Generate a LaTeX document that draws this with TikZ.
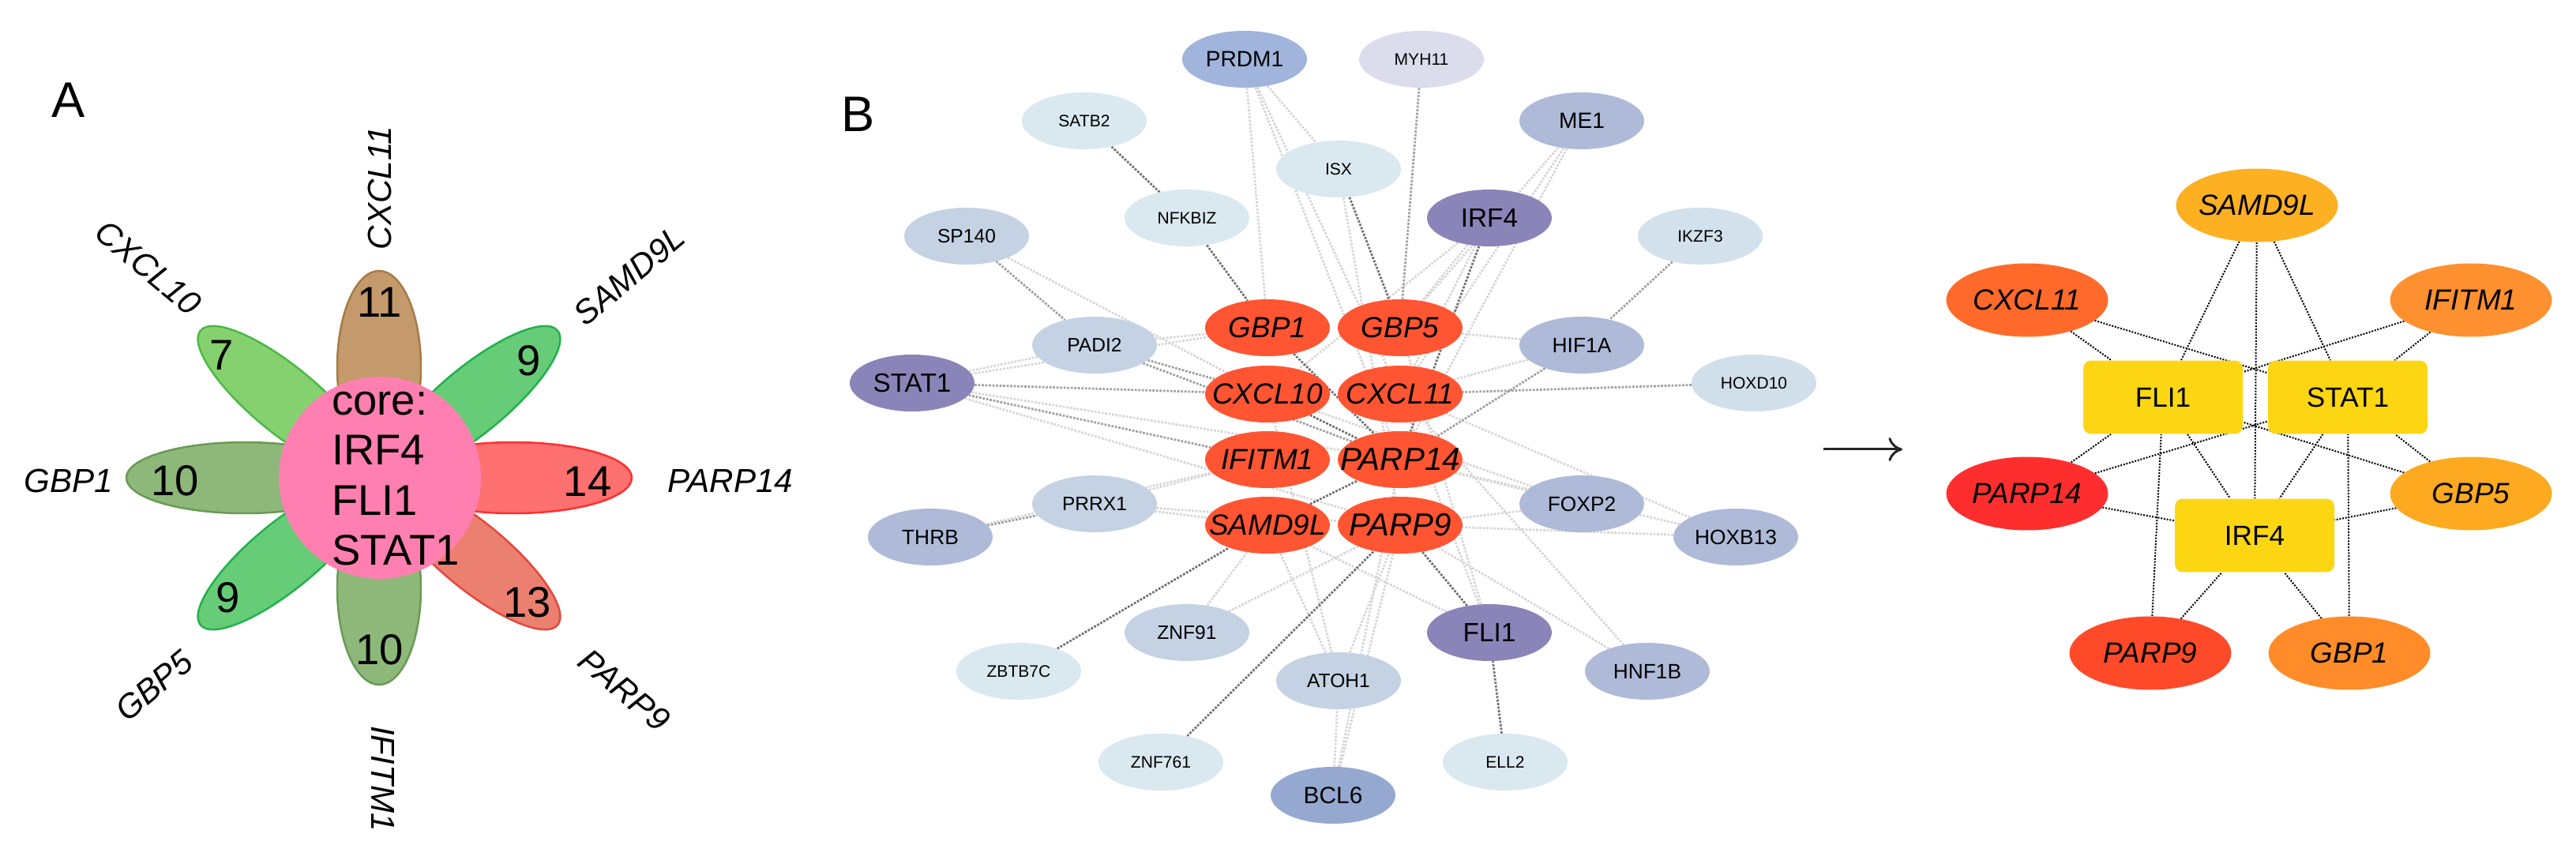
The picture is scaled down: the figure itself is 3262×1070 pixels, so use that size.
\documentclass[tikz,border=0pt]{standalone}
\usepackage{fontspec}
\setmainfont{Liberation Sans}
\usetikzlibrary{shapes.geometric,backgrounds,arrows.meta}
\definecolor{cred}{HTML}{FF5533}
\definecolor{cpur}{HTML}{8B84B8}
\definecolor{cprd}{HTML}{A0B4DC}
\definecolor{cmyh}{HTML}{DCDCEC}
\definecolor{clt}{HTML}{DAE8F0}
\definecolor{cmid}{HTML}{C4D2E4}
\definecolor{cblu}{HTML}{AEBAD8}
\definecolor{cbcl}{HTML}{94A8D0}
\definecolor{eD}{HTML}{707070}
\definecolor{eM}{HTML}{A0A0A0}
\definecolor{eL}{HTML}{D6D6D6}
\definecolor{cyel}{HTML}{FCD612}
\tikzset{
 fs/.style={font=\fontsize{#1}{#1}\selectfont},
 bn/.style={ellipse,minimum width=3.16cm,minimum height=1.44cm,inner sep=-0.6cm},
 rn/.style={bn,fill=cred,font=\fontsize{21}{21}\selectfont\itshape},
 sm/.style={bn,fill=clt,font=\fontsize{12}{12}\selectfont},
 md/.style={bn,fill=cmid,font=\fontsize{14}{14}\selectfont},
 bl/.style={bn,fill=cblu,font=\fontsize{15}{15}\selectfont},
 pu/.style={bn,fill=cpur,font=\fontsize{19}{19}\selectfont},
 ed/.style={eD,densely dotted,line width=0.055cm},
 em/.style={eM,densely dotted,line width=0.055cm},
 el/.style={eL,densely dotted,line width=0.055cm},
 ce/.style={black,densely dotted,line width=0.04cm},
 co/.style={ellipse,minimum width=4.1cm,minimum height=1.86cm,inner sep=-0.8cm,font=\fontsize{21}{21}\selectfont\itshape},
 cr/.style={rectangle,rounded corners=0.2cm,fill=cyel,minimum width=4.04cm,minimum height=1.86cm,font=\fontsize{20}{20}\selectfont},
 lab/.style={font=\fontsize{24}{24}\selectfont\itshape},
 num/.style={font=\fontsize{31}{31}\selectfont},
}
\begin{document}
\begin{tikzpicture}[x=0.02cm,y=-0.02cm]
\useasboundingbox (0,0) rectangle (3262,1070);
% ---------- Panel A
\node[fs=36] (A) at (87,127) {A};
\begin{scope}[shift={(480,605)},line width=0.05cm]
\filldraw[fill={rgb,255:red,134;green,209;blue,111},draw={rgb,255:red,76;green,184;blue,71},rotate=140.5] (155,0) ellipse (138 and 42);
\filldraw[fill={rgb,255:red,102;green,204;blue,119},draw={rgb,255:red,34;green,177;blue,76},rotate=39.5] (155,0) ellipse (138 and 42);
\filldraw[fill={rgb,255:red,102;green,204;blue,119},draw={rgb,255:red,34;green,177;blue,76},rotate=219.5] (155,0) ellipse (138 and 42);
\filldraw[fill={rgb,255:red,236;green,128;blue,112},draw={rgb,255:red,230;green,70;blue,60},rotate=320.5] (155,0) ellipse (138 and 42);
\filldraw[fill={rgb,255:red,196;green,154;blue,108},draw={rgb,255:red,166;green,124;blue,69},rotate=90] (140,0) ellipse (122 and 53);
\filldraw[fill={rgb,255:red,141;green,184;blue,122},draw={rgb,255:red,106;green,154;blue,85},rotate=270] (140,0) ellipse (122 and 53);
\filldraw[fill={rgb,255:red,141;green,184;blue,122},draw={rgb,255:red,106;green,154;blue,85},rotate=180] (170,0) ellipse (150 and 45);
\filldraw[fill={rgb,255:red,255;green,112;blue,112},draw={rgb,255:red,255;green,48;blue,48},rotate=0] (170,0) ellipse (150 and 45);
\end{scope}
\node[circle,fill={rgb,255:red,255;green,128;blue,176},minimum size=5.12cm,inner sep=0pt] (core) at (481,605) {};
\node[anchor=west,align=left,font=\fontsize{31}{36}\selectfont] (coret) at (414,606) {core:\\IRF4\\FLI1\\STAT1};
\node[num] (n1) at (481,383) {11};
\node[num] (n2) at (281,450) {7};
\node[num] (n3) at (670,457) {9};
\node[num] (n4) at (222,609) {10};
\node[num] (n5) at (744,610) {14};
\node[num] (n6) at (289,757) {9};
\node[num] (n7) at (668,763) {13};
\node[num] (n8) at (481,823) {10};
\node[lab,rotate=90] (l1) at (481,238) {CXCL11};
\node[lab,rotate=-40] (l2) at (188,339) {CXCL10};
\node[lab,rotate=40] (l3) at (797,349) {SAMD9L};
\node[lab] (l4) at (87,609) {GBP1};
\node[lab] (l5) at (925,609) {PARP14};
\node[lab,rotate=40] (l6) at (195,868) {GBP5};
\node[lab,rotate=-40] (l7) at (791,874) {PARP9};
\node[lab,rotate=-90] (l8) at (485,986) {IFITM1};
% ---------- Panel B
\node[fs=36] (B) at (1087,145) {B};
\node[bl,fill=cprd,font=\fontsize{16}{16}\selectfont] (PRDM1) at (1576,75) {PRDM1};
\node[sm,fill=cmyh] (MYH11) at (1800,75) {MYH11};
\node[sm] (SATB2) at (1373,153) {SATB2};
\node[bl,font=\fontsize{16}{16}\selectfont] (ME1) at (2003,153) {ME1};
\node[sm] (ISX) at (1695,214) {ISX};
\node[sm] (NFKBIZ) at (1503,276) {NFKBIZ};
\node[pu] (IRF4) at (1886,276) {IRF4};
\node[md] (SP140) at (1224,299) {SP140};
\node[sm,fill=clt!70!cmid] (IKZF3) at (2153,299) {IKZF3};
\node[md] (PADI2) at (1386,437) {PADI2};
\node[bl] (HIF1A) at (2003,437) {HIF1A};
\node[pu] (STAT1) at (1155,485) {STAT1};
\node[sm,fill=clt!60!cmid] (HOXD10) at (2221,485) {HOXD10};
\node[md] (PRRX1) at (1386,638) {PRRX1};
\node[bl] (FOXP2) at (2003,638) {FOXP2};
\node[bl] (THRB) at (1178,680) {THRB};
\node[bl] (HOXB13) at (2198,680) {HOXB13};
\node[md] (ZNF91) at (1503,801) {ZNF91};
\node[pu] (FLI1) at (1886,801) {FLI1};
\node[sm] (ZBTB7C) at (1290,850) {ZBTB7C};
\node[bl] (HNF1B) at (2086,850) {HNF1B};
\node[md] (ATOH1) at (1695,862) {ATOH1};
\node[sm] (ZNF761) at (1470,965) {ZNF761};
\node[sm] (ELL2) at (1906,965) {ELL2};
\node[bl,fill=cbcl,font=\fontsize{17}{17}\selectfont] (BCL6) at (1688,1007) {BCL6};
\node[rn] (GBP1) at (1605,415) {GBP1};
\node[rn] (GBP5) at (1773,415) {GBP5};
\node[rn] (CXCL10) at (1605,499) {CXCL10};
\node[rn] (CXCL11) at (1773,499) {CXCL11};
\node[rn] (IFITM1) at (1605,582) {IFITM1};
\node[rn,font=\fontsize{23}{23}\selectfont\itshape] (PARP14) at (1773,582) {PARP14};
\node[rn] (SAMD9L) at (1605,665) {SAMD9L};
\node[rn,font=\fontsize{23}{23}\selectfont\itshape] (PARP9) at (1773,665) {PARP9};
\begin{scope}[on background layer]
\foreach \a/\b in {PRDM1/GBP1,PRDM1/CXCL11,PRDM1/PARP14,ISX/PARP9,ME1/GBP5,ME1/CXCL11,ME1/PARP14,IRF4/CXCL11,IRF4/GBP5,IRF4/CXCL10,SP140/CXCL10,HIF1A/CXCL11,HIF1A/GBP5,PADI2/GBP1,STAT1/PARP14,STAT1/GBP1,STAT1/PARP9,PRRX1/IFITM1,PRRX1/SAMD9L,PRRX1/PARP9,THRB/IFITM1,FOXP2/PARP14,FOXP2/PARP9,FOXP2/CXCL10,HOXB13/CXCL11,HOXB13/PARP14,HOXB13/PARP9,ZNF91/SAMD9L,ZNF91/PARP9,FLI1/CXCL11,FLI1/SAMD9L,FLI1/GBP5,ATOH1/PARP9,ATOH1/SAMD9L,ATOH1/CXCL10,BCL6/PARP9,BCL6/ATOH1,BCL6/PARP14,HNF1B/PARP9,HNF1B/CXCL11,STAT1/PADI2,PRDM1/ISX}
  \draw[el] (\a) -- (\b);
\foreach \a/\b in {MYH11/GBP5,SP140/PADI2,IKZF3/HIF1A,HIF1A/PARP14,PADI2/CXCL10,PADI2/PARP14,STAT1/CXCL10,STAT1/IFITM1,HOXD10/CXCL11,THRB/PRRX1}
  \draw[em] (\a) -- (\b);
\foreach \a/\b in {SATB2/NFKBIZ,NFKBIZ/GBP1,ISX/GBP5,IRF4/PARP14,FLI1/PARP9,ZBTB7C/SAMD9L,ZNF761/PARP9,ELL2/FLI1,GBP1/PARP14,CXCL10/PARP14,SAMD9L/PARP14}
  \draw[ed] (\a) -- (\b);
\end{scope}
% ---------- Panel C
\coordinate (arS) at (2309,569);
\coordinate (arE) at (2409,569);
\draw[-{To[length=0.35cm,width=0.6cm]},line width=0.06cm,black!85] (arS) -- (arE);
\node[co,fill={rgb,255:red,253;green,176;blue,34}] (cSAMD9L) at (2858,260) {SAMD9L};
\node[co,fill={rgb,255:red,255;green,106;blue,42}] (cCXCL11) at (2567,380) {CXCL11};
\node[co,fill={rgb,255:red,255;green,144;blue,48}] (cIFITM1) at (3129,380) {IFITM1};
\node[cr] (cFLI1) at (2739,503) {FLI1};
\node[cr] (cSTAT1) at (2973,503) {STAT1};
\node[co,fill={rgb,255:red,255;green,46;blue,46}] (cPARP14) at (2567,625) {PARP14};
\node[co,fill={rgb,255:red,253;green,170;blue,32}] (cGBP5) at (3129,625) {GBP5};
\node[cr] (cIRF4) at (2855,678) {IRF4};
\node[co,fill={rgb,255:red,255;green,74;blue,42}] (cPARP9) at (2723,827) {PARP9};
\node[co,fill={rgb,255:red,255;green,140;blue,40}] (cGBP1) at (2975,827) {GBP1};
\begin{scope}[on background layer]
\foreach \a/\b in {SAMD9L/FLI1,SAMD9L/IRF4,SAMD9L/STAT1,CXCL11/FLI1,CXCL11/STAT1,IFITM1/FLI1,IFITM1/STAT1,PARP14/FLI1,PARP14/STAT1,PARP14/IRF4,GBP5/STAT1,GBP5/FLI1,GBP5/IRF4,PARP9/FLI1,PARP9/IRF4,GBP1/STAT1,GBP1/IRF4,FLI1/IRF4,STAT1/IRF4}
  \draw[ce] (c\a) -- (c\b);
\end{scope}
\end{tikzpicture}
\end{document}
